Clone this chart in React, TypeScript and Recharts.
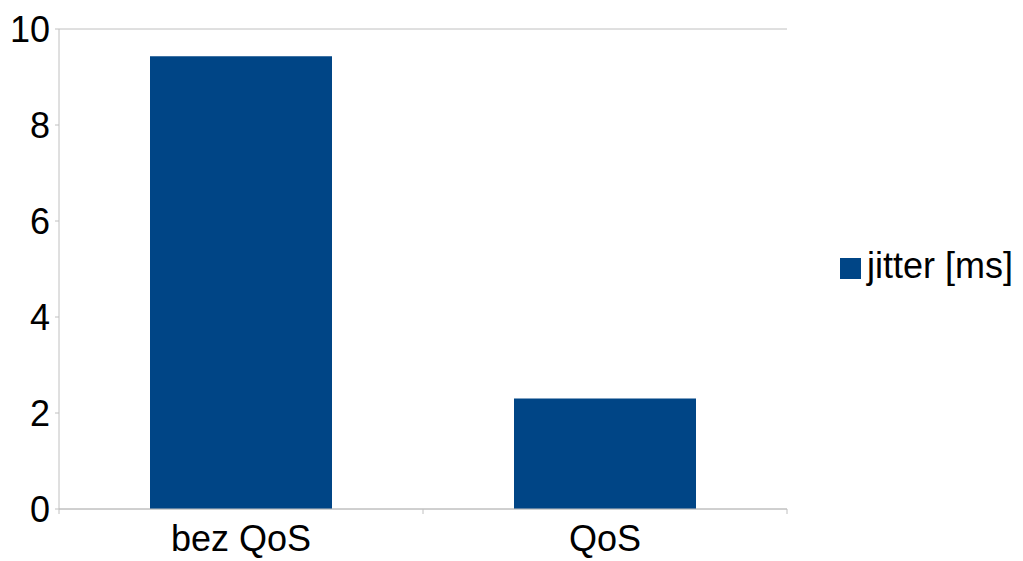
import React from "react";
import { BarChart, Bar, XAxis, YAxis, CartesianGrid, Legend } from "recharts";

const categories = ["bez QoS", "QoS"];
const jitter = [9.43, 2.3];
const yTicks = [0, 2, 4, 6, 8, 10];
const seriesName = "jitter [ms]";

const data = categories.map((name, i) => ({ name, jitter: jitter[i] }));

const GRID = "#c0c0c0";
const BAR = "#004586";
const FONT = "'Liberation Sans', Arial, sans-serif";
const LEGEND_W = 185;
const X_TICK_SIZE = 6;
const X_TICK_MARGIN = 10;

// category label plus the small marks at the category boundaries
function CategoryTick(props: any) {
  const { x, y, payload } = props;
  const half = payload.offset || 0;
  const axisY = y - X_TICK_SIZE - X_TICK_MARGIN;
  return (
    <g>
      {payload.index === 0 && (
        <line x1={x - half} x2={x - half} y1={axisY} y2={axisY + 5} stroke={GRID} />
      )}
      <line x1={x + half} x2={x + half} y1={axisY} y2={axisY + 5} stroke={GRID} />
      <text
        x={x}
        y={y}
        dy="0.71em"
        textAnchor="middle"
        fill="#000"
        fontSize={36}
        fontFamily={FONT}
      >
        {payload.value}
      </text>
    </g>
  );
}

export default function App() {
  return (
    <div style={{ position: "absolute", left: 0, top: 0, background: "#fff" }}>
      <BarChart
        width={1023}
        height={561}
        data={data}
        margin={{ top: 29, right: 236 - LEGEND_W, left: 0, bottom: 0 }}
        barCategoryGap="25%"
      >
        <CartesianGrid stroke={GRID} vertical={false} />
        <XAxis
          dataKey="name"
          xAxisId="cat"
          axisLine={{ stroke: GRID }}
          tickLine={false}
          tickSize={X_TICK_SIZE}
          tickMargin={X_TICK_MARGIN}
          tick={<CategoryTick />}
          height={52}
        />
        <YAxis
          yAxisId="left"
          domain={[0, 10]}
          ticks={yTicks}
          width={59}
          axisLine={{ stroke: GRID }}
          tickLine={{ stroke: GRID }}
          tickSize={4}
          tickMargin={5}
          tick={{ fill: "#000", fontSize: 36, fontFamily: FONT }}
        />
        <YAxis
          yAxisId="right"
          orientation="right"
          domain={[0, 10]}
          width={0}
          axisLine={{ stroke: GRID }}
          tick={false}
          tickLine={false}
        />
        <Legend
          layout="horizontal"
          verticalAlign="middle"
          align="right"
          iconType="square"
          iconSize={21}
          wrapperStyle={{ left: 838, top: 245, width: LEGEND_W, fontFamily: FONT, fontSize: 36 }}
          formatter={(v) => <span style={{ color: "#000", marginLeft: 2 }}>{v}</span>}
        />
        <Bar
          dataKey="jitter"
          name={seriesName}
          xAxisId="cat"
          yAxisId="left"
          fill={BAR}
          isAnimationActive={false}
        />
      </BarChart>
    </div>
  );
}
